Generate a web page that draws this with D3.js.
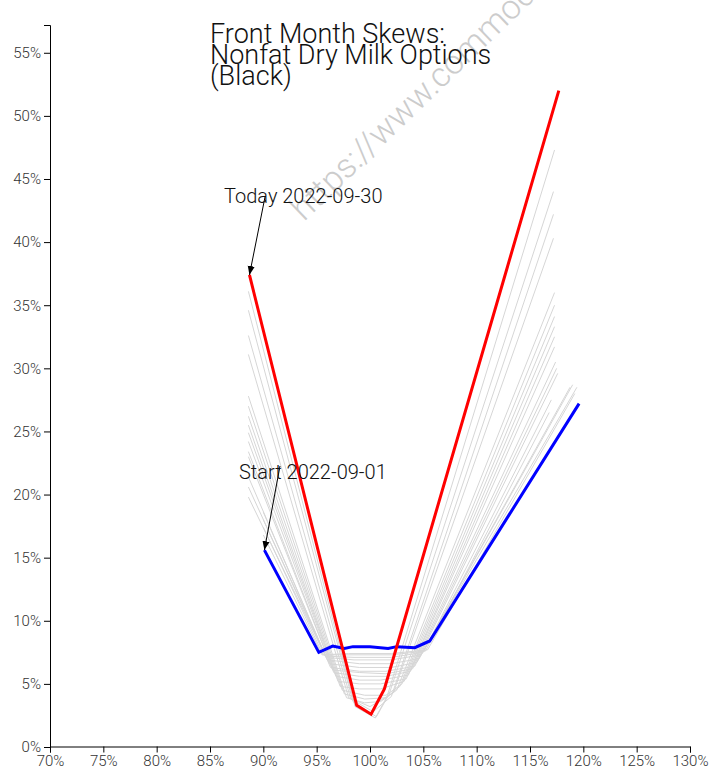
<!DOCTYPE html>
<html>
<head>
<meta charset="utf-8">
<script src="https://cdn.jsdelivr.net/npm/d3@7"></script>
<style>
  html, body { margin: 0; padding: 0; background: #fff; }
  svg { display: block; font-family: Roboto, "Noto Sans", sans-serif; }
</style>
</head>
<body>
<svg id="chart" width="720" height="772"></svg>
<script>
// ---- data (strike as % of underlying, implied vol %) ----
const titleLines = ["Front Month Skews:", "Nonfat Dry Milk Options", "(Black)"];
const xTicks = [70, 75, 80, 85, 90, 95, 100, 105, 110, 115, 120, 125, 130];
const yTicks = [0, 5, 10, 15, 20, 25, 30, 35, 40, 45, 50, 55];

const startDate = "2022-09-01";
const todayDate = "2022-09-30";

// first day (blue)
const startSkew = [
  [90.1, 15.6], [95.2, 7.5], [96.5, 8.0], [97.6, 7.8], [98.4, 7.95],
  [100.0, 7.95], [101.7, 7.8], [102.5, 7.95], [104.2, 7.87], [105.6, 8.4], [119.6, 27.2]
];
// last day (red)
const todaySkew = [
  [88.7, 37.4], [98.75, 3.3], [100.1, 2.6], [101.35, 4.6], [117.7, 52.0]
];
// intermediate days (grey)
const otherSkews = [
  [[88.6, 36.1], [98.6, 3.2], [100.5, 2.3], [101.6, 4.0], [117.3, 47.3]],
  [[88.6, 34.6], [98.4, 3.6], [100.6, 2.4], [101.8, 4.2], [117.2, 44.0]],
  [[88.6, 32.6], [98.2, 3.8], [100.3, 2.8], [102.0, 4.0], [117.2, 42.2]],
  [[88.6, 31.1], [98.0, 3.9], [100.0, 3.2], [102.2, 4.3], [117.2, 40.3]],
  [[88.6, 27.8], [97.8, 3.9], [99.5, 3.5], [101.0, 3.6], [102.5, 4.5], [117.3, 36.0]],
  [[88.6, 27.0], [97.6, 4.2], [99.5, 3.8], [101.5, 3.9], [102.8, 4.8], [117.3, 35.0]],
  [[88.6, 26.2], [97.4, 4.5], [99.5, 4.1], [101.5, 4.1], [103.0, 5.0], [117.3, 34.1]],
  [[88.6, 25.5], [97.2, 4.8], [99.0, 4.6], [101.0, 4.6], [103.2, 5.2], [117.3, 33.3]],
  [[88.6, 24.9], [97.0, 5.2], [99.0, 5.0], [101.0, 5.0], [103.4, 5.4], [117.3, 32.5]],
  [[88.6, 24.2], [96.8, 5.6], [99.0, 5.3], [101.0, 5.3], [103.6, 5.7], [117.3, 31.7]],
  [[88.6, 23.4], [96.6, 5.9], [99.0, 5.6], [101.5, 5.6], [103.8, 6.0], [117.4, 30.5]],
  [[88.6, 23.0], [96.5, 6.1], [99.0, 5.9], [101.5, 5.8], [104.0, 6.2], [117.5, 30.0]],
  [[88.6, 21.4], [96.3, 6.3], [99.0, 6.0], [101.5, 6.0], [104.2, 6.4], [117.6, 29.6]],
  [[88.6, 20.6], [96.2, 6.6], [99.0, 6.3], [102.0, 6.3], [104.4, 6.7], [118.75, 28.5]],
  [[88.6, 19.8], [96.0, 6.9], [99.0, 6.6], [102.0, 6.6], [104.6, 7.0], [119.0, 28.7]],
  [[90.0, 18.6], [95.9, 7.1], [98.5, 6.9], [102.0, 6.9], [104.8, 7.3], [119.4, 28.5]],
  [[90.0, 18.0], [95.8, 7.2], [98.5, 7.1], [102.0, 7.1], [105.0, 7.5], [117.0, 27.5]],
  [[90.0, 17.4], [95.6, 7.3], [98.5, 7.3], [102.0, 7.3], [105.2, 7.6], [116.8, 26.5]],
  [[90.0, 16.8], [95.5, 7.3], [98.0, 7.4], [102.0, 7.4], [105.4, 7.7], [119.2, 28.0]]
];

// ---- drawing ----
const svg = d3.select("#chart");
const x = d3.scaleLinear().domain([70, 130]).range([50, 690]);
const yMax = d3.max(todaySkew, d => d[1]) * 1.1;
const y = d3.scaleLinear().domain([0, yMax]).range([747, 25]);

// watermark
svg.append("text")
  .attr("transform", "translate(304,222) rotate(-44)")
  .attr("font-size", 34)
  .attr("font-weight", 300)
  .attr("fill", "#cccccc")
  .text("https://www.commodityoptions.io");

const line = d3.line().x(d => x(d[0])).y(d => y(d[1]));

svg.append("g").selectAll("path").data(otherSkews).join("path")
  .attr("d", line)
  .attr("fill", "none")
  .attr("stroke", "#d6d6d6")
  .attr("stroke-width", 1);

svg.append("path").datum(startSkew).attr("d", line)
  .attr("fill", "none").attr("stroke", "#0000ff").attr("stroke-width", 3);
svg.append("path").datum(todaySkew).attr("d", line)
  .attr("fill", "none").attr("stroke", "#ff0000").attr("stroke-width", 3);

// axes
const fmt = d => d + "%";
const xAxis = svg.append("g").attr("transform", "translate(0,746.5)")
  .call(d3.axisBottom(x).tickValues(xTicks).tickFormat(fmt));
const yAxis = svg.append("g").attr("transform", "translate(50,0)")
  .call(d3.axisLeft(y).tickValues(yTicks).tickFormat(fmt));
[xAxis, yAxis].forEach(g => {
  g.selectAll("text").attr("font-family", "Roboto").attr("font-weight", 300)
    .attr("font-size", 15).attr("fill", "#333");
  g.select(".domain").attr("stroke", "#000");
  g.selectAll(".tick line").attr("stroke", "#000");
});

// title
svg.append("text")
  .attr("x", 210).attr("y", 42.5)
  .attr("font-size", 27).attr("font-weight", 300).attr("fill", "#111")
  .selectAll("tspan").data(titleLines).join("tspan")
  .attr("x", 210).attr("dy", (d, i) => i === 0 ? 0 : 21)
  .text(d => d);

// annotations
const defs = svg.append("defs");
defs.append("marker").attr("id", "arrow")
  .attr("viewBox", "0 0 10 10").attr("refX", 10).attr("refY", 5)
  .attr("markerWidth", 9).attr("markerHeight", 9).attr("markerUnits", "userSpaceOnUse")
  .attr("orient", "auto")
  .append("path").attr("d", "M0,1 L10,5 L0,9 Z").attr("fill", "#000");

function annotate(label, pt, tx, ty, lx, ly) {
  svg.append("line")
    .attr("x1", lx).attr("y1", ly)
    .attr("x2", x(pt[0])).attr("y2", y(pt[1]))
    .attr("stroke", "#000").attr("stroke-width", 1)
    .attr("marker-end", "url(#arrow)");
  svg.append("text").attr("x", tx).attr("y", ty)
    .attr("font-size", 20).attr("font-weight", 300).attr("fill", "#111")
    .text(label);
}
annotate("Today " + todayDate, todaySkew[0], 224, 203, 265, 197);
annotate("Start " + startDate, startSkew[0], 239, 479, 280, 466);
</script>
</body>
</html>
